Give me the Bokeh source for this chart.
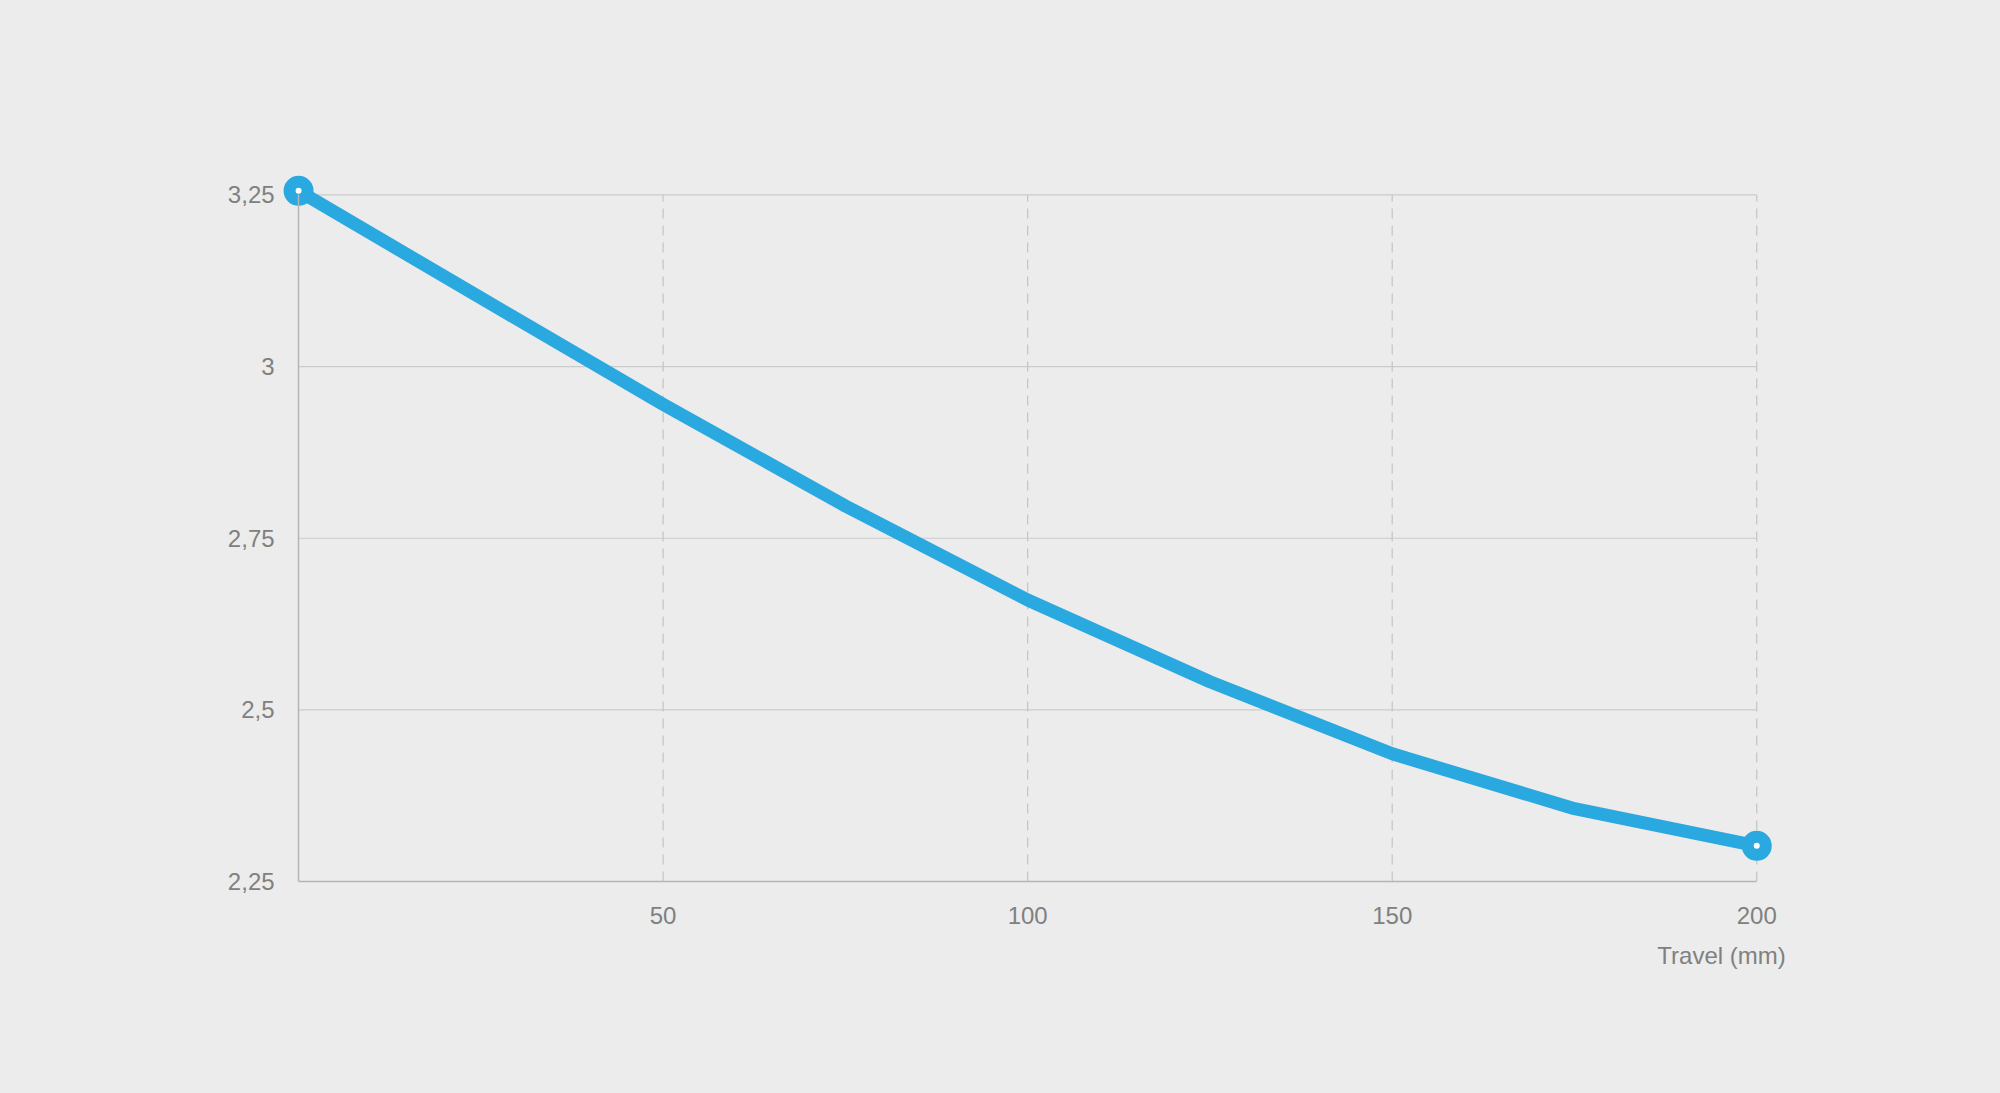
from bokeh.plotting import figure
from bokeh.models import (FixedTicker, CustomJSTickFormatter, Label, Range1d)
from bokeh.embed import file_html
from bokeh.resources import INLINE

# ---- data ----
TRAVEL = [0, 25, 50, 75, 100, 125, 150, 175, 200]
VALUE = [3.256, 3.100, 2.945, 2.797, 2.660, 2.541, 2.436, 2.356, 2.302]
X_TICKS = [50, 100, 150, 200]
Y_TICKS = [2.25, 2.5, 2.75, 3.0, 3.25]
X_LABEL = "Travel (mm)"

BG = "#ececec"
BLUE = "#2aa8e0"
TXT = "#808080"
FONT = "Liberation Sans"

# frame is kept large so that labels and end markers drawn inside it are not clipped
p = figure(width=2000, height=1093, output_backend="svg", toolbar_location=None,
           x_range=Range1d(-14, 206), y_range=Range1d(2.10, 3.29),
           min_border_left=196, min_border_right=200,
           min_border_top=167, min_border_bottom=109)
p.background_fill_color = None
p.border_fill_color = None
p.styles = {"background-color": BG}
p.outline_line_color = None
p.xgrid.visible = False
p.ygrid.visible = False

xmin, xmax = min([0] + X_TICKS), max(X_TICKS)
ymin, ymax = min(Y_TICKS), max(Y_TICKS)

# horizontal grid lines (solid)
hy = [t for t in Y_TICKS if t != ymin]
p.segment(x0=[xmin] * len(hy), y0=hy, x1=[xmax] * len(hy), y1=hy,
          line_color="#cbcbcb", line_width=1.2)
# vertical grid lines (dashed)
p.segment(x0=X_TICKS, y0=[ymin] * len(X_TICKS), x1=X_TICKS, y1=[ymax] * len(X_TICKS),
          line_color="#c4c4c4", line_width=1.2, line_dash="10 7")

# axes, pinned to the data origin
xa = p.xaxis[0]
xa.fixed_location = ymin
xa.bounds = (xmin, xmax)
xa.ticker = FixedTicker(ticks=X_TICKS)
ya = p.yaxis[0]
ya.fixed_location = xmin
ya.bounds = (ymin, ymax)
ya.ticker = FixedTicker(ticks=Y_TICKS)
ya.formatter = CustomJSTickFormatter(code="return tick.toString().replace('.', ',');")
for ax in (xa, ya):
    ax.axis_line_color = "#b5b5b5"
    ax.axis_line_width = 1.5
    ax.major_tick_line_color = None
    ax.minor_tick_line_color = None
    ax.major_tick_out = 0
    ax.major_tick_in = 0
    ax.minor_tick_out = 0
    ax.major_label_text_font = FONT
    ax.major_label_text_font_size = "24px"
    ax.major_label_text_color = TXT
xa.major_label_standoff = 25
ya.major_label_standoff = 24

# curve
p.line(TRAVEL, VALUE, line_color=BLUE, line_width=13, line_cap="round", line_join="round")
ends_x = [TRAVEL[0], TRAVEL[-1]]
ends_y = [VALUE[0], VALUE[-1]]
p.scatter(ends_x, ends_y, size=30, fill_color=BLUE, line_color=None)
p.scatter(ends_x, ends_y, size=6, fill_color="white", line_color=None)

# axis title at bottom right
lbl = Label(x=xmax, y=ymin, x_offset=29, y_offset=-74, text=X_LABEL,
            text_align="right", text_baseline="middle",
            text_font=FONT, text_font_size="24px", text_color=TXT)
p.add_layout(lbl)

html = file_html(p, INLINE)
html = html.replace("<body>", '<body style="background:%s">' % BG, 1)
open("out.html", "w").write(html)
